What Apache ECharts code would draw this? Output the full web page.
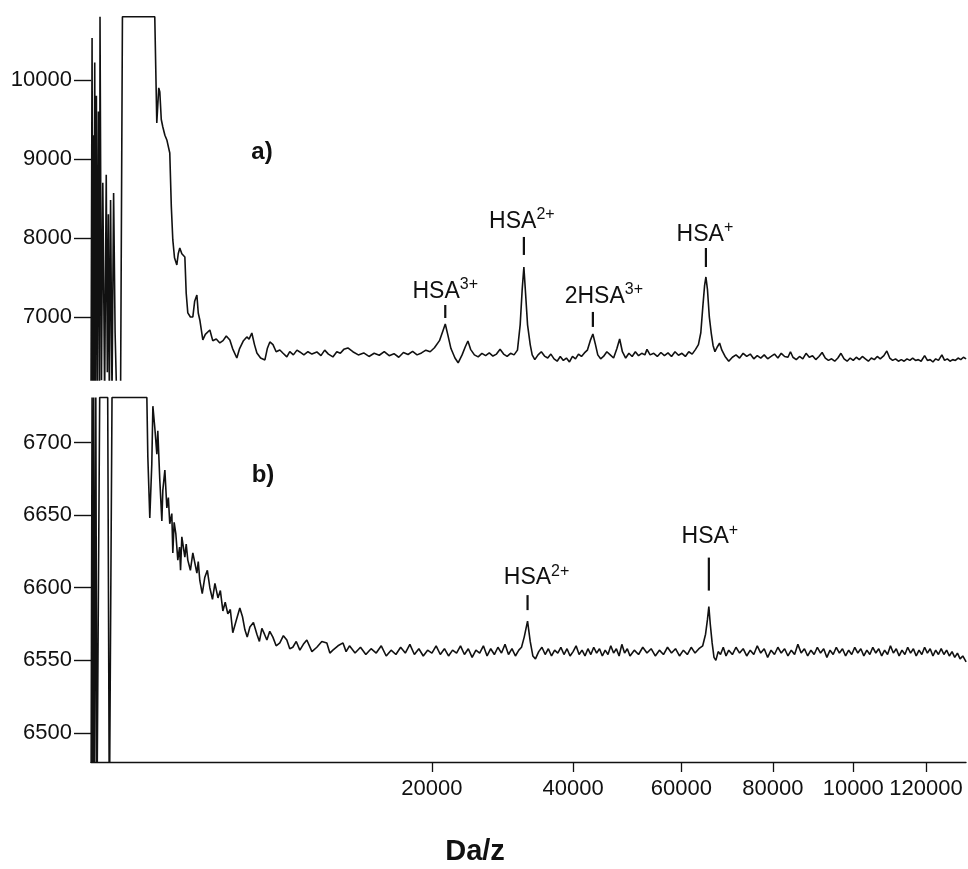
<!DOCTYPE html>
<html>
<head>
<meta charset="utf-8">
<script src="https://cdn.jsdelivr.net/npm/echarts@6/dist/echarts.min.js"></script>
<style>
  html, body { margin: 0; padding: 0; background: #fff; }
  #chart { width: 968px; height: 869px; }
</style>
</head>
<body>
<div id="chart"></div>
<script>
// ---- Spectrum a): mass-to-charge (Da/z) and detector counts ----
const aMz = [
  0, 0.2, 0.5, 0.9, 1.5, 2.4, 3.5, 5, 7, 9.5,
  12.5, 14, 16.5, 19, 24, 32, 40, 46, 52, 58,
  66, 76, 88, 100, 115, 150, 170, 700, 745, 790,
  815, 850, 888, 940, 990, 1068, 1110, 1152, 1200, 1268,
  1310, 1357, 1420, 1516, 1560, 1613, 1700, 1785, 1850, 1929,
  1980, 2038, 2152, 2250, 2431, 2550, 2700, 2856, 3000, 3150,
  3318, 3450, 3660, 3800, 4000, 4178, 4300, 4452, 4600, 4737,
  4950, 5205, 5350, 5506, 5700, 5900, 6137, 6350, 6600, 6800,
  7050, 7300, 7507, 7800, 8100, 8400, 8778, 9100, 9400, 9700,
  10069, 10400, 10700, 11000, 11356, 11800, 12300, 12800, 13300, 13800,
  14300, 14800, 15300, 15800, 16300, 16800, 17300, 17800, 18300, 18800,
  19300, 19800, 20300, 20900, 21300, 21600, 21900, 22300, 22800, 23200,
  23700, 24100, 24450, 24800, 25300, 25800, 26300, 26800, 27300, 27800,
  28300, 28800, 29300, 29800, 30300, 30800, 31300, 31700, 32000, 32250,
  32500, 32800, 33200, 33500, 33900, 34400, 34900, 35400, 35900, 36400,
  36900, 37400, 37900, 38400, 38900, 39400, 39900, 40400, 40900, 41400,
  41900, 42400, 42900, 43350, 43800, 44200, 44700, 45200, 45800, 46400,
  47000, 47600, 48100, 48600, 49200, 49800, 50400, 51000, 51600, 52200,
  52800, 53200, 53800, 54500, 55200, 55900, 56600, 57300, 58000, 58700,
  59400, 60100, 60800, 61500, 62200, 62900, 63500, 64000, 64450, 64800,
  65080, 65400, 65800, 66200, 66600, 67000, 67500, 68000, 68500, 69200,
  70000, 70800, 71600, 72400, 73200, 74000, 74800, 75600, 76400, 77200,
  78000, 78800, 79600, 80400, 81200, 82000, 82800, 83600, 84200, 84800,
  85600, 86400, 87200, 88000, 88800, 89600, 90400, 91200, 92000, 92800,
  93600, 94400, 95200, 96000, 96800, 97600, 98400, 99200, 100000, 100800,
  101600, 102400, 103200, 104000, 104800, 105600, 106400, 107200, 108200, 109000,
  109800, 110600, 111400, 112200, 113000, 113800, 114600, 115400, 116200, 117000,
  117800, 118600, 119600, 120400, 121200, 122000, 122800, 123600, 124600, 125400,
  126200, 127000, 127800, 128600, 129400, 130200, 131000, 131800
];
const aCounts = [
  5900, 10530, 6100, 9300, 6000, 10220, 6100, 9800, 5950, 9600,
  6050, 10800, 10800, 6200, 8700, 6000, 8800, 6300, 8300, 5950,
  8480, 6000, 8570, 6800, 5900, 5900, 10800, 10800, 9456, 9900,
  9848, 9500, 9405, 9300, 9241, 9076, 8400, 7975, 7750, 7658,
  7800, 7873, 7800, 7760, 7300, 7051, 7000, 7000, 7200, 7278,
  7050, 6962, 6709, 6780, 6835, 6700, 6720, 6671, 6700, 6760,
  6709, 6600, 6481, 6600, 6700, 6747, 6720, 6797, 6650, 6544,
  6480, 6456, 6600, 6684, 6650, 6560, 6582, 6540, 6494, 6560,
  6520, 6580, 6557, 6520, 6560, 6530, 6557, 6510, 6580, 6530,
  6494, 6560, 6540, 6590, 6608, 6560, 6520, 6545, 6500, 6540,
  6515, 6560, 6510, 6535, 6490, 6550, 6525, 6565, 6520, 6545,
  6580, 6560, 6610, 6700, 6820, 6911, 6780, 6600, 6480, 6420,
  6520, 6620, 6696, 6590, 6520, 6495, 6540, 6510, 6545, 6505,
  6530, 6590, 6530, 6500, 6540, 6520, 6580, 6900, 7350, 7633,
  7300, 6900, 6650, 6520, 6460, 6520, 6560, 6505, 6480, 6530,
  6470, 6440, 6500, 6450, 6480, 6430, 6500, 6470, 6530, 6500,
  6545, 6580, 6700, 6785, 6650, 6520, 6470, 6500, 6560, 6520,
  6480, 6600, 6721, 6560, 6480, 6540, 6500, 6560, 6510, 6540,
  6520, 6590, 6520, 6540, 6500, 6550, 6510, 6545, 6500, 6560,
  6515, 6540, 6500, 6560, 6530, 6590, 6650, 6800, 7150, 7400,
  7506, 7350, 7000, 6800, 6640, 6560, 6620, 6670, 6580, 6500,
  6440, 6490, 6520, 6480, 6540, 6500, 6530, 6470, 6510, 6480,
  6520, 6470, 6500, 6530, 6480, 6540, 6500, 6490, 6560, 6490,
  6460, 6500, 6470, 6540, 6490, 6510, 6460, 6500, 6550, 6480,
  6450, 6470, 6440, 6480, 6540, 6470, 6440, 6480, 6450, 6490,
  6460, 6500, 6470, 6440, 6480, 6460, 6500, 6470, 6510, 6570,
  6480, 6450, 6470, 6440, 6460, 6440, 6470, 6450, 6480, 6450,
  6460, 6440, 6510, 6450, 6460, 6430, 6470, 6450, 6520, 6450,
  6470, 6440, 6460, 6450, 6480, 6460, 6490, 6470
];

// ---- Spectrum b) ----
const bMz = [
  0, 0.2, 0.6, 1.3, 2.2, 4, 6, 13, 48, 58,
  70, 76, 537, 556, 595, 636, 659, 701, 746, 768,
  815, 864, 888, 939, 990, 1030, 1068, 1124, 1152, 1190,
  1239, 1297, 1350, 1380, 1420, 1516, 1560, 1613, 1700, 1785,
  1929, 1980, 2038, 2130, 2227, 2330, 2431, 2540, 2643, 2775,
  2880, 2993, 3100, 3222, 3340, 3460, 3640, 3812, 3950, 4077,
  4200, 4345, 4540, 4737, 4880, 5025, 5180, 5324, 5500, 5693,
  5900, 6137, 6370, 6600, 6800, 7009, 7250, 7507, 7760, 8017,
  8400, 8778, 9170, 9573, 9820, 10069, 10500, 10929, 11200, 11500,
  12000, 12500, 13000, 13500, 14000, 14500, 15000, 15500, 16000, 16500,
  17000, 17500, 18000, 18500, 19000, 19500, 20000, 20500, 21000, 21500,
  22000, 22500, 23000, 23500, 24000, 24500, 25000, 25500, 26000, 26500,
  27000, 27500, 28000, 28500, 29000, 29500, 30000, 30500, 31000, 31500,
  31900, 32300, 32800, 33200, 33600, 34000, 34500, 35000, 35500, 36000,
  36500, 37000, 37500, 38000, 38500, 39000, 39500, 40000, 40500, 41000,
  41500, 42000, 42500, 43000, 43500, 44000, 44500, 45000, 45500, 46000,
  46500, 47000, 47500, 48000, 48500, 49000, 49500, 50000, 50800, 51600,
  52400, 53200, 54000, 54800, 55600, 56400, 57200, 58000, 58800, 59600,
  60400, 61200, 62000, 62800, 63600, 64400, 65000, 65400, 65700, 66000,
  66400, 66800, 67200, 67700, 68200, 68800, 69400, 70000, 70800, 71600,
  72400, 73200, 74000, 74800, 75600, 76400, 77200, 78000, 78800, 79600,
  80400, 81200, 82000, 82800, 83600, 84400, 85200, 86000, 86800, 87600,
  88400, 89200, 90000, 90800, 91600, 92400, 93200, 94000, 94800, 95600,
  96400, 97200, 98000, 98800, 99600, 100400, 101200, 102000, 102800, 103600,
  104400, 105200, 106000, 106800, 107600, 108400, 109200, 110000, 110800, 111600,
  112400, 113200, 114000, 114800, 115600, 116400, 117200, 118000, 118800, 119600,
  120400, 121200, 122000, 122800, 123600, 124400, 125200, 126000, 126800, 127600,
  128400, 129200, 130000, 130800, 131800
];
const bCounts = [
  6440, 6731, 6440, 6731, 6440, 6731, 6440, 6731, 6731, 6440,
  6440, 6731, 6731, 6690, 6648, 6685, 6725, 6710, 6692, 6708,
  6674, 6646, 6667, 6681, 6655, 6662, 6644, 6651, 6624, 6645,
  6637, 6619, 6628, 6612, 6635, 6621, 6630, 6619, 6612, 6624,
  6610, 6618, 6605, 6596, 6607, 6612, 6600, 6592, 6603, 6593,
  6598, 6584, 6590, 6582, 6585, 6569, 6578, 6586, 6580, 6571,
  6566, 6573, 6576, 6568, 6563, 6572, 6568, 6564, 6570, 6566,
  6560, 6562, 6567, 6564, 6558, 6559, 6563, 6557, 6561, 6564,
  6556, 6559, 6563, 6562, 6555, 6557, 6560, 6562, 6556, 6560,
  6555, 6559, 6554, 6558, 6555, 6560, 6553, 6557, 6554, 6559,
  6555, 6561, 6554, 6558, 6553, 6557, 6555, 6560, 6554, 6558,
  6553, 6557, 6555, 6560, 6554, 6558, 6552, 6557, 6555, 6560,
  6553, 6558, 6554, 6559, 6555, 6561, 6554, 6558, 6553, 6557,
  6559, 6566, 6577, 6563, 6553, 6551, 6556, 6559, 6554, 6558,
  6553, 6557, 6555, 6559, 6554, 6558, 6553, 6556, 6560, 6554,
  6557, 6553, 6558, 6554, 6559, 6555, 6558, 6553, 6557, 6554,
  6560, 6555, 6558, 6553, 6561, 6555, 6558, 6553, 6557, 6554,
  6559, 6555, 6558, 6553, 6557, 6554, 6559, 6555, 6558, 6553,
  6557, 6554, 6559, 6555, 6558, 6560, 6568, 6578, 6587, 6575,
  6562, 6552, 6550, 6556, 6554, 6559, 6553, 6557, 6554, 6559,
  6555, 6558, 6553, 6557, 6554, 6560, 6555, 6558, 6552, 6557,
  6554, 6559, 6555, 6558, 6553, 6557, 6554, 6561, 6555, 6558,
  6553, 6557, 6554, 6559, 6555, 6558, 6552, 6557, 6554, 6559,
  6555, 6558, 6553, 6557, 6554, 6559, 6555, 6558, 6553, 6557,
  6554, 6559, 6555, 6558, 6553, 6557, 6554, 6560, 6555, 6558,
  6553, 6557, 6554, 6559, 6555, 6558, 6553, 6557, 6554, 6559,
  6555, 6558, 6553, 6557, 6554, 6558, 6554, 6557, 6553, 6556,
  6552, 6555, 6551, 6553, 6549
];

// ---- Axis ticks ----
const massTicks = [20000, 40000, 60000, 80000, 100000, 120000];
const massTickText = ['20000', '40000', '60000', '80000', '10000', '120000'];
const aCountTicks = [7000, 8000, 9000, 10000];
const bCountTicks = [6500, 6550, 6600, 6650, 6700];

// ---- Peak assignments ----
const aPeakNames = ['{b|HSA}{s|3+}', '{b|HSA}{s|2+}', '{b|2HSA}{s|3+}', '{b|HSA}{s|+}'];
const aPeakMz = [21600, 32250, 43350, 65080];
const bPeakNames = ['{b|HSA}{s|2+}', '{b|HSA}{s|+}'];
const bPeakMz = [32800, 65700];

// marker geometry in pixels (gap above the peak, marker length, label shift)
const aPeakStyle = [
  { gap: 6, len: 13, dx: 0, lg: 2 },
  { gap: 12, len: 18, dx: -2, lg: 4 },
  { gap: 7, len: 15, dx: 11, lg: 4 },
  { gap: 10, len: 19, dx: -1, lg: 2 }
];
const bPeakStyle = [
  { gap: 11, len: 15, dx: 9, lg: 6 },
  { gap: 16, len: 33, dx: 1, lg: 9 }
];

// Time-of-flight axis: position grows with sqrt(m/z)
const toAxis = m => Math.sqrt(m);
const X_MAX = 363;
const FONT = '"Liberation Sans", Arial, Helvetica, sans-serif';
const INK = '#111';
const TRACE_W = 1.6;

function pairs(mz, counts) {
  return mz.map((m, i) => [toAxis(m), counts[i]]);
}
function peakData(peakMz, mz, counts) {
  return peakMz.map((m, i) => [toAxis(m), counts[mz.indexOf(m)], i]);
}
function peakRenderer(names, styles) {
  return function (params, api) {
    const i = api.value(2);
    const p = api.coord([api.value(0), api.value(1)]);
    const st = styles[i];
    const yLow = p[1] - st.gap;
    const yHigh = yLow - st.len;
    return {
      type: 'group',
      children: [
        { type: 'line', shape: { x1: p[0], y1: yHigh, x2: p[0], y2: yLow },
          style: { stroke: INK, lineWidth: 2.2 } },
        { type: 'text', x: p[0] + st.dx, y: yHigh - st.lg,
          style: {
            text: names[i], fill: INK, align: 'center', verticalAlign: 'bottom',
            rich: {
              b: { fontSize: 23, lineHeight: 26, fontFamily: FONT, fill: INK, verticalAlign: 'bottom' },
              s: { fontSize: 16, lineHeight: 18, fontFamily: FONT, fill: INK, verticalAlign: 'top' }
            }
          } }
      ]
    };
  };
}

const tickLabel = v => {
  let best = 0;
  massTicks.forEach((t, i) => {
    if (Math.abs(toAxis(t) - v) < Math.abs(toAxis(massTicks[best]) - v)) best = i;
  });
  return massTickText[best];
};

const yAxisBase = (gridIndex, min, max, ticks) => ({
  gridIndex, type: 'value', min, max,
  axisLine: { show: false },
  splitLine: { show: false },
  axisTick: { show: true, customValues: ticks, length: 17, inside: false,
    lineStyle: { color: INK, width: 1.4 } },
  axisLabel: { customValues: ticks, margin: 19, fontSize: 22, color: INK,
    fontFamily: FONT, formatter: v => String(v) }
});

const chart = echarts.init(document.getElementById('chart'), null, { renderer: 'canvas' });
chart.setOption({
  animation: false,
  backgroundColor: '#fff',
  grid: [
    { left: 91, top: 16, width: 875, height: 364, outerBoundsMode: 'none' },
    { left: 91, top: 396, width: 875, height: 366, outerBoundsMode: 'none' }
  ],
  xAxis: [
    { gridIndex: 0, type: 'value', min: 0, max: X_MAX, show: false },
    { gridIndex: 1, type: 'value', min: 0, max: X_MAX,
      axisLine: { show: true, onZero: false, lineStyle: { color: INK, width: 1.4 } },
      axisTick: { show: true, customValues: massTicks.map(toAxis), length: 10,
        lineStyle: { color: INK, width: 1.3 } },
      axisLabel: { customValues: massTicks.map(toAxis), margin: 16, fontSize: 22,
        color: INK, fontFamily: FONT, formatter: tickLabel },
      splitLine: { show: false } }
  ],
  yAxis: [
    yAxisBase(0, 6202, 10810, aCountTicks),
    yAxisBase(1, 6480, 6732, bCountTicks)
  ],
  series: [
    { type: 'line', xAxisIndex: 0, yAxisIndex: 0, data: pairs(aMz, aCounts),
      showSymbol: false, clip: true, lineStyle: { color: INK, width: TRACE_W } },
    { type: 'line', xAxisIndex: 1, yAxisIndex: 1, data: pairs(bMz, bCounts),
      showSymbol: false, clip: true, lineStyle: { color: INK, width: TRACE_W } },
    { type: 'custom', xAxisIndex: 0, yAxisIndex: 0, encode: { x: 0, y: 1 },
      data: peakData(aPeakMz, aMz, aCounts),
      renderItem: peakRenderer(aPeakNames, aPeakStyle) },
    { type: 'custom', xAxisIndex: 1, yAxisIndex: 1, encode: { x: 0, y: 1 },
      data: peakData(bPeakMz, bMz, bCounts),
      renderItem: peakRenderer(bPeakNames, bPeakStyle) }
  ],
  graphic: [
    { type: 'text', x: 262, y: 152, style: { text: 'a)', fill: INK,
      font: 'bold 24px ' + FONT, align: 'center', verticalAlign: 'middle' } },
    { type: 'text', x: 263, y: 475, style: { text: 'b)', fill: INK,
      font: 'bold 24px ' + FONT, align: 'center', verticalAlign: 'middle' } },
    { type: 'text', x: 475, y: 852, style: { text: 'Da/z', fill: INK,
      font: 'bold 29px ' + FONT, align: 'center', verticalAlign: 'middle' } }
  ]
});
</script>
</body>
</html>
